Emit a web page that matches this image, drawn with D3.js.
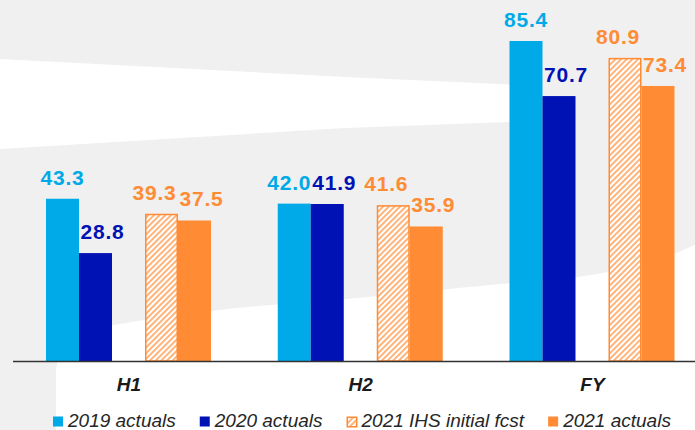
<!DOCTYPE html>
<html>
<head>
<meta charset="utf-8">
<script src="https://cdn.jsdelivr.net/npm/d3@7"></script>
<style>
	html, body { margin: 0; padding: 0; background: #f0f0f0; }
	svg { display: block; font-family: Arial, "Liberation Sans", sans-serif; }
	.waarde { font-size: 21px; font-weight: bold; letter-spacing: 0.8px; }
	.cat { font-size: 19px; font-weight: bold; font-style: italic; fill: #1a1a1a; }
	.legenda text { font-size: 19px; font-style: italic; fill: #262626; }
</style>
</head>
<body>
<svg width="695" height="430"></svg>
<script>
// data
const categories = ["H1", "H2", "FY"];
const series = ["2019 actuals", "2020 actuals", "2021 IHS initial fcst", "2021 actuals"];
const values2019 = [43.3, 42.0, 85.4];
const values2020 = [28.8, 41.9, 70.7];
const valuesFcst2021 = [39.3, 41.6, 80.9];
const values2021 = [37.5, 35.9, 73.4];

const blauwLicht = '#00a9e7';
const blauwDonker = '#0012b4';
const oranje = '#ff8c34';

// slot "c" in each group is the empty gap between 2020 and the 2021 bars
const reeksen = [
	{naam: series[0], waarden: values2019, slot: "a", kleur: blauwLicht, dx: 0, nudge: [0, -5, 0]},
	{naam: series[1], waarden: values2020, slot: "b", kleur: blauwDonker, dx: 7, nudge: [0, 0, 0]},
	{naam: series[2], waarden: valuesFcst2021, slot: "d", kleur: oranje, dx: -7, hatch: true, nudge: [0, 0, 0]},
	{naam: series[3], waarden: values2021, slot: "e", kleur: oranje, dx: 7, nudge: [0, 0, 0]}
];

const svg = d3.select("svg");
const W = 695, H = 430;
const basis = 361;

// background swooshes
svg.append("rect").attr("width", W).attr("height", H).attr("fill", "#f0f0f0");
svg.append("path")
	.attr("fill", "#ffffff")
	.attr("d", "M0,59 L345,77 L540,86 L540,121 L345,128 L0,149 Z");
svg.append("path")
	.attr("fill", "#ffffff")
	.attr("d", "M56,430 L56,372 Q58,331 113,325 C170,316 230,307 300,303 C400,295 470,286 540,281 C600,276 650,266 695,245 L695,430 Z");

const defs = svg.append("defs");
const pat = defs.append("pattern")
	.attr("id", "arcering")
	.attr("patternUnits", "userSpaceOnUse")
	.attr("width", 4)
	.attr("height", 4)
	.attr("patternTransform", "rotate(45)");
pat.append("rect").attr("width", 4).attr("height", 4).attr("fill", "#ffffff");
pat.append("line")
	.attr("x1", 1).attr("y1", 0).attr("x2", 1).attr("y2", 4)
	.attr("stroke", oranje).attr("stroke-width", 1.3);

const x0 = d3.scalePoint().domain(categories).range([128.5, 592]);
const x1 = d3.scaleBand().domain(["a", "b", "c", "d", "e"]).range([-82.5, 82.5]);
const y = d3.scaleLinear()
	.domain([0, d3.max(reeksen.flatMap(r => r.waarden))])
	.range([basis, 41]);

const g = svg.append("g");

reeksen.forEach(r => {
	const rg = g.append("g").attr("class", "reeks");
	rg.selectAll("rect")
		.data(r.waarden)
		.join("rect")
		.attr("x", (d, i) => x0(categories[i]) + x1(r.slot) + (r.hatch ? 0.75 : 0))
		.attr("y", d => y(d) + (r.hatch ? 0.75 : 0))
		.attr("width", x1.bandwidth() - (r.hatch ? 1.5 : 0))
		.attr("height", d => basis - y(d) - (r.hatch ? 0.75 : 0))
		.attr("fill", r.hatch ? "url(#arcering)" : r.kleur)
		.attr("stroke", r.hatch ? r.kleur : "none")
		.attr("stroke-width", 1.5);

	rg.selectAll("text")
		.data(r.waarden)
		.join("text")
		.attr("class", "waarde")
		.attr("text-anchor", "middle")
		.attr("x", (d, i) => x0(categories[i]) + x1(r.slot) + x1.bandwidth() / 2 + r.dx + r.nudge[i])
		.attr("y", d => y(d) - 14)
		.attr("fill", r.kleur)
		.text(d => d3.format(".1f")(d));
});

// x axis
const xAxis = d3.axisBottom(x0).tickSize(0).tickPadding(0);
const gX = svg.append("g").attr("transform", `translate(0,${basis})`).call(xAxis);
gX.select(".domain").remove();
gX.selectAll("text")
	.attr("class", "cat")
	.attr("dy", null)
	.attr("y", 30);
svg.append("line")
	.attr("x1", 13).attr("x2", W)
	.attr("y1", basis + 0.5).attr("y2", basis + 0.5)
	.attr("stroke", "#333").attr("stroke-width", 1.5);

// legend
const leg = svg.append("g").attr("class", "legenda");
let lx = 53;
reeksen.forEach(r => {
	leg.append("rect")
		.attr("x", lx + (r.hatch ? 0.75 : 0)).attr("y", 416.5 + (r.hatch ? 0.75 : 0))
		.attr("width", r.hatch ? 9.5 : 10).attr("height", r.hatch ? 9.5 : 10)
		.attr("fill", r.hatch ? "url(#arcering)" : r.kleur)
		.attr("stroke", r.hatch ? r.kleur : "none")
		.attr("stroke-width", 1.5);
	const t = leg.append("text")
		.attr("x", lx + 15)
		.attr("y", 427)
		.text(r.naam);
	lx += 15 + t.node().getComputedTextLength() + 24;
});
</script>
</body>
</html>
